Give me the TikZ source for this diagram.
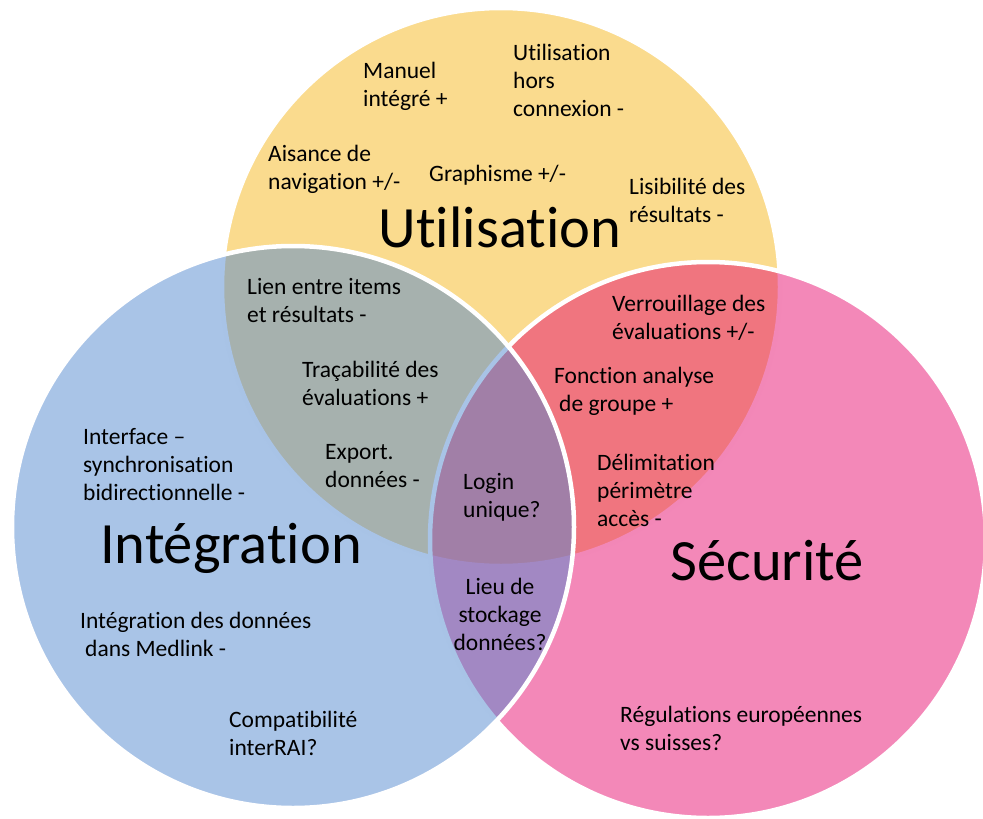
\documentclass[tikz,border=0pt]{standalone}
\usepackage{fontspec}
\setmainfont[Ligatures={TeX,NoCommon}]{Carlito}
\usetikzlibrary{positioning}
\definecolor{utilfill}{HTML}{FADB8E}
\definecolor{integfill}{HTML}{5389CF}
\definecolor{secufill}{HTML}{E71171}
\tikzstyle{area}=[draw=white,line width=4.5pt]
\tikzstyle{item}=[inner sep=0pt,anchor=north west,align=left,
font=\fontsize{23.5}{28}\selectfont,execute at begin node=\strut]
\tikzstyle{theme}=[inner sep=0pt,anchor=base,font=\fontsize{58.5}{70}\selectfont]

\begin{document}
\begin{tikzpicture}[x=1pt,y=-1pt]
    \useasboundingbox (0,0) rectangle (983,819);

    \coordinate (utilc) at (501,287);
    \coordinate (secuc) at (708,540);
    \coordinate (integc) at (293,527);

    \draw[area,fill=utilfill] (utilc) circle[radius=279pt];
    \draw[area,fill=secufill,fill opacity=0.5] (secuc) circle[radius=278pt];
    \draw[area,fill=integfill,fill opacity=0.5] (integc) circle[radius=281pt];

    \node[theme] (util) at (500,247) {Utilisation};
    \node[theme] (integ) at (231,563) {Intégration};
    \node[theme] (secu) at (767,580) {Sécurité};

    \node[item] (manuel) at (363,62) {Manuel\\intégré +};
    \node[item] (horscnx) at (513,44) {Utilisation\\hors\\connexion -};
    \node[item] (aisance) at (268,145) {Aisance de\\navigation +/-};
    \node[item] (graph) at (429,162) {Graphisme +/-};
    \node[item] (lisib) at (629,178) {Lisibilité des\\résultats -};

    \node[item] (lien) at (247,278) {Lien entre items\\et résultats -};
    \node[item] (traca) at (302,361) {Traçabilité des\\évaluations +};
    \node[item] (export) at (325,444) {Export.\\données -};

    \node[item] (verrou) at (612,295) {Verrouillage des\\évaluations +/-};
    \node[item] (fonction) at (554,367) {Fonction analyse\\\hspace*{5pt}de groupe +};
    \node[item] (delim) at (597,454) {Délimitation\\périmètre\\accès -};

    \node[item] (login) at (463,473) {Login\\unique?};
    \node[item,anchor=north,align=center] (lieu) at (500,578) {Lieu de\\stockage\\données?};

    \node[item] (interface) at (83,428) {Interface –\\synchronisation\\bidirectionnelle -};
    \node[item] (medlink) at (80,612) {Intégration des données\\\hspace*{5pt}dans Medlink -};
    \node[item] (compat) at (229,711) {Compatibilité\\interRAI?};

    \node[item] (regul) at (620,706) {Régulations européennes\\vs suisses?};
\end{tikzpicture}
\end{document}
